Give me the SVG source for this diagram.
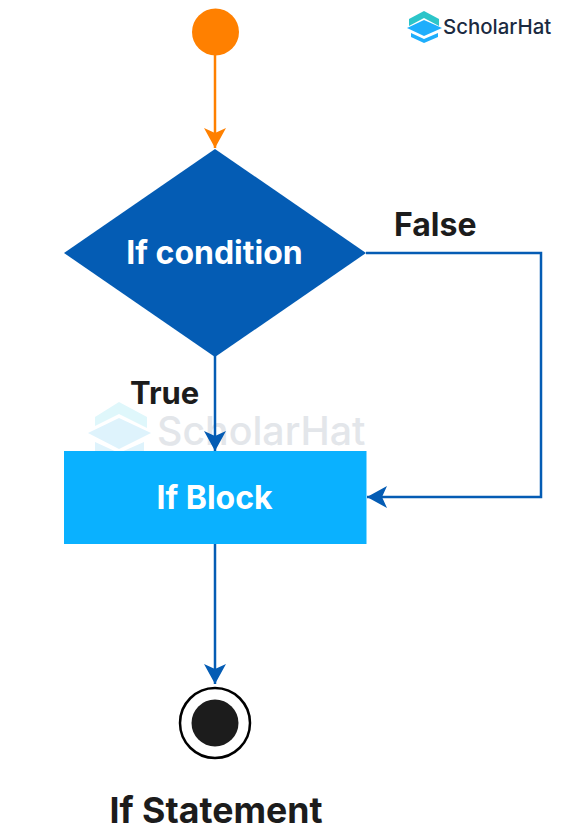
<svg xmlns="http://www.w3.org/2000/svg" width="572" height="838" viewBox="0 0 572 838">
<style>
text{font-family:Inter,"Liberation Sans",Arial,sans-serif;font-weight:700}
.lbl{font-size:32px;fill:#1c1c1c}
.in{font-size:32px;fill:#fff;text-anchor:middle}
.conn{fill:none;stroke:#045cb4;stroke-width:2.5}
.wm{font-weight:500;font-size:39.3px;fill:#e3e6ea}
.logo{font-weight:500;font-size:20.4px;fill:#1b2a41}
</style>
<defs>
<marker id="ab" markerUnits="userSpaceOnUse" markerWidth="22" markerHeight="22" refX="20" refY="11" orient="auto"><path d="M0 0L20 11L0 22L5 11Z" fill="#045cb4"/></marker>
<marker id="ao" markerUnits="userSpaceOnUse" markerWidth="22" markerHeight="22" refX="20" refY="11" orient="auto"><path d="M0 0L20 11L0 22L5 11Z" fill="#ff8000"/></marker>
</defs>
<rect width="572" height="838" fill="#fff"/>
<g id="watermark">
<path d="M119 402L147 417V428L119 414L95 426V417Z" fill="#dff7fb"/>
<path d="M119 418L151 433L119 449L88 433Z" fill="#def3fc"/>
<path d="M95 442L119 453L144 442V451H95Z" fill="#def3fc"/>
<text class="wm" x="157" y="445">ScholarHat</text>
</g>
<g id="logo">
<path d="M424 11L439 19V26L424 18L409 26V19Z" fill="#2cc5c9"/>
<path d="M424 20L442 28L424 36L407 28Z" fill="#1eaefc"/>
<path d="M411 33L424 39L438 33V37L424 43L411 37Z" fill="#1eaefc"/>
<text class="logo" x="443" y="34">ScholarHat</text>
</g>
<g id="connectors">
<path class="conn" style="stroke:#ff8000" d="M215 54V148" marker-end="url(#ao)"/>
<path class="conn" d="M215 356V451" marker-end="url(#ab)"/>
<path class="conn" d="M366 253H541V497H367" marker-end="url(#ab)"/>
<path class="conn" d="M215 544V684" marker-end="url(#ab)"/>
</g>
<g id="start"><circle cx="215.500" cy="32" r="23.500" fill="#ff8000"/></g>
<g id="condition">
<path d="M215 149L366 253L215 357L64 253Z" fill="#045cb4"/>
<text class="in" x="214.500" y="264">If condition</text>
</g>
<g id="block">
<rect x="64" y="451" width="302.500" height="93" fill="#0ab1ff"/>
<text class="in" x="214.500" y="509">If Block</text>
</g>
<g id="end">
<circle cx="215" cy="723" r="35" fill="#fff" stroke="#000" stroke-width="2.500"/>
<circle cx="215" cy="723" r="23.500" fill="#1c1c1c"/>
</g>
<g id="labels">
<text class="lbl" x="394" y="236">False</text>
<text class="lbl" style="font-size:31px" x="130" y="404">True</text>
<text x="216" y="823" style="font-size:35.7px;fill:#1c1c1c;text-anchor:middle">If Statement</text>
</g>
</svg>
